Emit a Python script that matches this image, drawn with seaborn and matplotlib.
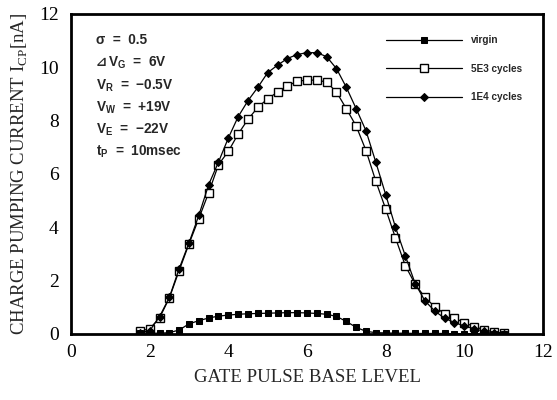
import numpy as np
import pandas as pd
import matplotlib
matplotlib.use("Agg")
import matplotlib.pyplot as plt
import seaborn as sns

# ---- data -------------------------------------------------------------
gate_level = [1.75, 2.0, 2.25, 2.5, 2.75, 3.0, 3.25, 3.5, 3.75, 4.0,
              4.25, 4.5, 4.75, 5.0, 5.25, 5.5, 5.75, 6.0, 6.25, 6.5,
              6.75, 7.0, 7.25, 7.5, 7.75, 8.0, 8.25, 8.5, 8.75, 9.0,
              9.25, 9.5, 9.75, 10.0, 10.25, 10.5, 10.75, 11.0]

virgin = [0.03, 0.03, 0.03, 0.05, 0.15, 0.38, 0.50, 0.60, 0.67, 0.71,
          0.74, 0.76, 0.77, 0.78, 0.79, 0.80, 0.80, 0.79, 0.77, 0.74,
          0.66, 0.47, 0.25, 0.10, 0.05, 0.04, 0.03, 0.03, 0.02, 0.02,
          0.02, 0.02, 0.01, 0.01, 0.01, 0.00, 0.00, 0.00]

cyc_5e3 = [0.10, 0.20, 0.60, 1.35, 2.38, 3.38, 4.33, 5.30, 6.35, 6.85,
           7.50, 8.05, 8.50, 8.82, 9.07, 9.30, 9.48, 9.52, 9.52, 9.45,
           9.07, 8.45, 7.80, 6.88, 5.73, 4.69, 3.60, 2.56, 1.87, 1.37,
           1.02, 0.76, 0.60, 0.42, 0.28, 0.16, 0.08, 0.03]

cyc_1e4 = [0.05, 0.12, 0.65, 1.37, 2.45, 3.42, 4.45, 5.60, 6.45, 7.35,
           8.15, 8.75, 9.25, 9.80, 10.08, 10.33, 10.48, 10.55, 10.55, 10.40,
           9.95, 9.25, 8.45, 7.62, 6.44, 5.23, 4.00, 2.93, 1.89, 1.24,
           0.86, 0.59, 0.43, 0.30, 0.20, 0.10, 0.04, 0.00]

series_labels = ["virgin", "5E3 cycles", "1E4 cycles"]
x_ticks = [0, 2, 4, 6, 8, 10, 12]
y_ticks = [0, 2, 4, 6, 8, 10, 12]

# (prefix drawn in a font with the glyph, rest of line)
annot_lines = [("", "σ  =  0.5"),
               ("⊿", "V$_\\mathregular{G}$  =  6V"),
               ("", "V$_\\mathregular{R}$  =  −0.5V"),
               ("", "V$_\\mathregular{W}$  =  +19V"),
               ("", "V$_\\mathregular{E}$  =  −22V"),
               ("", "t$_\\mathregular{P}$  =  10msec")]

# ---- style ------------------------------------------------------------
sns.set_style("white")
plt.rcParams["font.family"] = ["Liberation Serif", "DejaVu Serif"]

df = pd.DataFrame({"x": gate_level, "virgin": virgin,
                   "5E3 cycles": cyc_5e3, "1E4 cycles": cyc_1e4})

fig = plt.figure(figsize=(5.57, 4.0), dpi=100)
ax = fig.add_axes([71 / 557, 1 - 334 / 400, (543 - 71) / 557, (334 - 14) / 400])

sns.lineplot(data=df, x="x", y="5E3 cycles", ax=ax, color="black", lw=0.9,
             marker="s", markersize=6.2, markerfacecolor="white",
             markeredgecolor="black", markeredgewidth=1.0,
             label="5E3 cycles", zorder=3)
sns.lineplot(data=df, x="x", y="1E4 cycles", ax=ax, color="black", lw=0.9,
             marker="D", markersize=4.3, markerfacecolor="black",
             markeredgecolor="black", label="1E4 cycles", zorder=4)
sns.lineplot(data=df, x="x", y="virgin", ax=ax, color="black", lw=0.9,
             marker="s", markersize=5.0, markerfacecolor="black",
             markeredgecolor="black", label="virgin", zorder=5)

ax.set_xlim(0, 12)
ax.set_ylim(0, 12)
ax.set_xticks(x_ticks)
ax.set_yticks(y_ticks)
ax.set_xticks(range(0, 13), minor=True)
ax.set_yticks(range(0, 13), minor=True)
ax.tick_params(which="both", direction="in", length=3, width=1.0,
               colors="black", top=False, right=False)
ax.tick_params(axis="x", which="major", labelsize=14, pad=7)
ax.tick_params(axis="y", which="major", labelsize=14, pad=9)
for s in ax.spines.values():
    s.set_linewidth(2.0)
    s.set_color("black")

ax.set_xlabel("GATE PULSE BASE LEVEL", fontsize=13.5, labelpad=6)
ax.set_ylabel("CHARGE PUMPING CURRENT I$_\\mathregular{CP}$[nA]",
              fontsize=13.5, labelpad=6)

# legend
handles, labels = ax.get_legend_handles_labels()
order = [labels.index(l) for l in series_labels]
leg = ax.legend([handles[i] for i in order], [labels[i] for i in order],
                loc="upper left", bbox_to_anchor=(386 / 557, 1 - 35 / 400),
                bbox_transform=fig.transFigure, frameon=False,
                prop={"family": "Liberation Sans", "weight": "bold", "size": 7.2},
                handlelength=7.6, handletextpad=0.9, labelspacing=1.85,
                borderpad=0, borderaxespad=0)

# annotation block
fig.canvas.draw()
renderer = fig.canvas.get_renderer()
ys = [40, 63, 86, 108, 130, 152]
x0 = 96
for (pre, txt), yp in zip(annot_lines, ys):
    xp = x0
    if pre:
        t = fig.text(xp / 557, 1 - yp / 400, pre, ha="left", va="center",
                     fontsize=9.5, fontweight="bold", family="DejaVu Sans")
        bb = t.get_window_extent(renderer)
        xp = bb.x1 + 1
    fig.text(xp / 557, 1 - yp / 400, txt, ha="left", va="center",
             fontsize=9.8, fontweight="bold", family="Liberation Sans")

fig.savefig("out.png", dpi=100)
